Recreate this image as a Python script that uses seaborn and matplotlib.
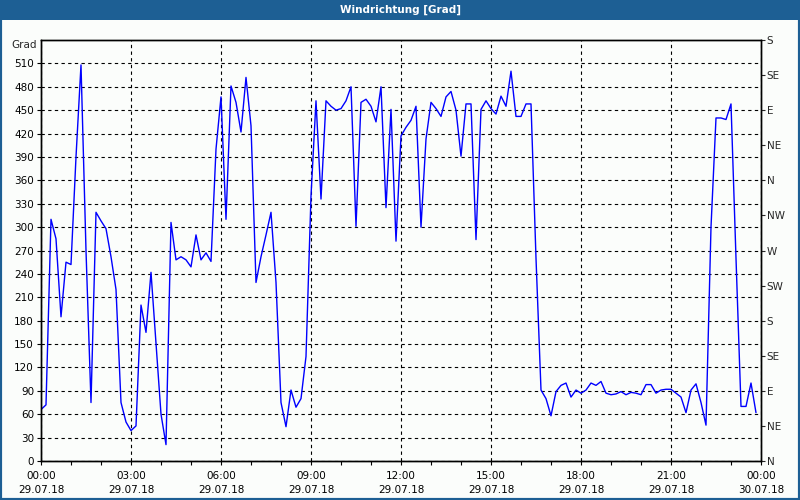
import matplotlib
matplotlib.use("Agg")
import matplotlib.pyplot as plt
import matplotlib.dates as mdates
import numpy as np
import pandas as pd
import seaborn as sns

# Windrichtung, 10-Minuten-Werte 29.07.18 00:00 .. 23:50
times = pd.date_range("2018-07-29 00:00", periods=144, freq="10min")
direction = [
    66, 72, 310, 285, 185, 255, 252, 390, 508, 270,
    75, 319, 308, 298, 262, 220, 75, 50, 39, 45,
    200, 165, 242, 150, 60, 21, 306, 258, 262, 258,
    249, 290, 258, 267, 256, 400, 467, 310, 481, 460,
    422, 492, 430, 229, 262, 290, 319, 229, 75, 44,
    91, 69, 80, 134, 340, 462, 336, 462, 455, 450,
    452, 462, 480, 301, 460, 464, 455, 435, 480, 325,
    451, 282, 417, 428, 437, 455, 300, 413, 460, 452,
    442, 467, 474, 450, 391, 458, 458, 284, 451, 462,
    452, 445, 468, 455, 500, 442, 442, 458, 458, 260,
    91, 80, 58, 89, 97, 100, 82, 91, 87, 91,
    100, 97, 102, 87, 85, 86, 89, 85, 88, 87,
    85, 98, 98, 87, 91, 92, 92, 87, 82, 62,
    91, 99, 75, 46, 300, 440, 440, 438, 458, 260,
    70, 70, 100, 62,
]
y_ticks = list(range(0, 541, 30))
compass_ticks = list(range(0, 541, 45))
compass_labels = ["N", "NE", "E", "SE", "S", "SW", "W", "NW", "N", "NE", "E", "SE", "S"]

df = pd.DataFrame({"Zeit": times, "Grad": direction})

sns.set_style("white")
plt.rcParams["font.family"] = ["DejaVu Sans"]
plt.rcParams["font.size"] = 7.5

bg = "#fbfdfb"
frame = "#1d5f94"

fig = plt.figure(figsize=(8, 5), dpi=100, facecolor=bg)

# Rahmen und Titelleiste
fig.patches.append(plt.Rectangle((0, 0), 1, 1, transform=fig.transFigure,
                                 fill=False, edgecolor=frame, linewidth=3))
fig.patches.append(plt.Rectangle((0, 0.96), 1, 0.04, transform=fig.transFigure,
                                 facecolor=frame, edgecolor="none"))
fig.text(0.5, 0.98, "Windrichtung [Grad]", color="white", fontweight="bold",
         ha="center", va="center", fontsize=7.5)

ax = fig.add_axes([41 / 800, 39 / 500, 720 / 800, 421 / 500])
ax.set_facecolor(bg)
sns.lineplot(data=df, x="Zeit", y="Grad", ax=ax, color="#0000ff", linewidth=1)

start = pd.Timestamp("2018-07-29 00:00")
ax.set_xlim(start, start + pd.Timedelta(hours=24))
ax.set_ylim(0, 540)
ax.set_yticks(y_ticks[:-1])
ax.xaxis.set_major_locator(mdates.HourLocator(byhour=range(0, 24, 3)))
ax.xaxis.set_minor_locator(mdates.HourLocator())
ax.xaxis.set_major_formatter(mdates.DateFormatter("%H:%M\n%d.%m.%y"))
ax.set_xlabel("")
ax.set_ylabel("")
ax.grid(True, which="major", color="black", linestyle=(0, (3, 3)), linewidth=0.8)
ax.tick_params(axis="both", which="both", direction="out", length=3, width=0.8,
               colors="black", labelsize=7.5, pad=2, bottom=True, left=True)
ax.tick_params(axis="x", which="major", length=3, pad=4)
for side in ax.spines.values():
    side.set_color("black")
    side.set_linewidth(1)
for lbl in ax.get_xticklabels():
    lbl.set_linespacing(1.5)

fig.text(37 / 800, 1 - 45 / 500, "Grad", ha="right", va="center", fontsize=7.5)

ax2 = ax.twinx()
ax2.set_ylim(0, 540)
ax2.set_yticks(compass_ticks)
ax2.set_yticklabels(compass_labels)
ax2.tick_params(axis="y", direction="out", length=3, width=0.8, labelsize=7.5, pad=1)
for side in ax2.spines.values():
    side.set_color("black")
    side.set_linewidth(1)

fig.savefig("out.png", dpi=100, facecolor=bg)
